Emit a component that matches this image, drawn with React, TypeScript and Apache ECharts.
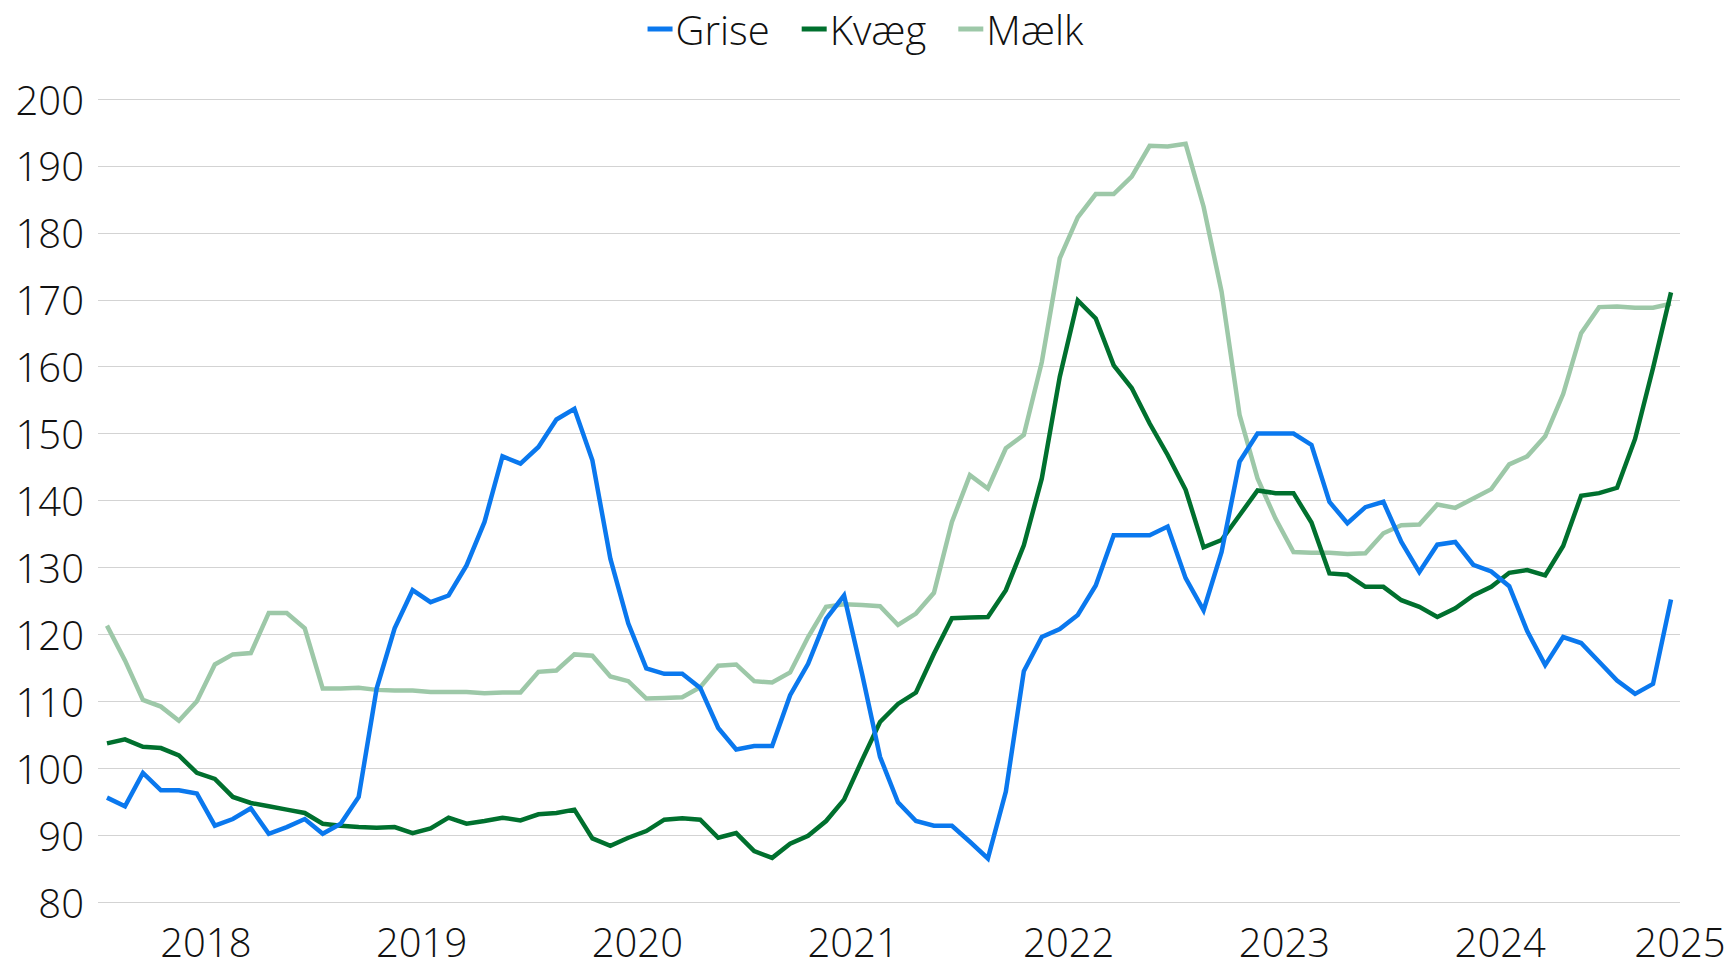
import React, { useEffect, useRef } from "react";
import * as echarts from "echarts";

// First observation: July 2017, monthly observations
const START_YEAR = 2017;
const START_MONTH = 7;

const seriesNames = ["Grise", "Kvæg", "Mælk"];

const grise = [
  95.6, 94.3, 99.3, 96.7, 96.7, 96.2, 91.4, 92.4, 94.0, 90.2,
  91.2, 92.4, 90.2, 91.7, 95.7, 111.9, 120.9, 126.6, 124.8, 125.8,
  130.3, 136.8, 146.6, 145.5, 148.0, 152.1, 153.7, 146.0, 131.3, 121.6,
  114.9, 114.1, 114.1, 112.0, 106.0, 102.8, 103.3, 103.3, 110.9, 115.6,
  122.3, 125.8, 114.1, 101.7, 94.9, 92.1, 91.4, 91.4, 89.0, 86.5,
  96.5, 114.5, 119.6, 120.8, 122.9, 127.3, 134.8, 134.8, 134.8, 136.1,
  128.4, 123.6, 132.3, 145.8, 150.0, 150.0, 150.0, 148.3, 139.8, 136.6,
  139.0, 139.8, 133.8, 129.3, 133.4, 133.8, 130.4, 129.4, 127.2, 120.5,
  115.4, 119.6, 118.7, 115.9, 113.1, 111.1, 112.6, 125.2,
];

const kvaeg = [
  103.7, 104.3, 103.2, 103.0, 101.9, 99.3, 98.4, 95.7, 94.8, 94.3,
  93.8, 93.3, 91.7, 91.4, 91.2, 91.1, 91.2, 90.3, 91.0, 92.6,
  91.7, 92.1, 92.6, 92.2, 93.1, 93.3, 93.8, 89.5, 88.4, 89.6,
  90.6, 92.3, 92.5, 92.3, 89.6, 90.3, 87.6, 86.6, 88.7, 89.9,
  92.1, 95.3, 101.2, 106.9, 109.6, 111.3, 117.1, 122.4, 122.5, 122.6,
  126.6, 133.3, 143.3, 158.5, 169.9, 167.2, 160.2, 156.8, 151.5, 146.8,
  141.6, 133.0, 134.1, 137.8, 141.5, 141.1, 141.1, 136.7, 129.1, 128.9,
  127.1, 127.1, 125.1, 124.1, 122.6, 123.9, 125.8, 127.1, 129.2, 129.6,
  128.8, 133.2, 140.7, 141.1, 141.9, 149.2, 159.8, 171.1,
];

const maelk = [
  121.3, 116.1, 110.2, 109.2, 107.1, 110.0, 115.5, 117.0, 117.2, 123.2,
  123.2, 120.9, 111.9, 111.9, 112.0, 111.7, 111.6, 111.6, 111.4, 111.4,
  111.4, 111.2, 111.3, 111.3, 114.4, 114.6, 117.0, 116.8, 113.7, 113.0,
  110.4, 110.5, 110.6, 112.1, 115.3, 115.5, 113.0, 112.8, 114.3, 119.6,
  124.1, 124.5, 124.4, 124.2, 121.4, 123.1, 126.2, 136.8, 143.8, 141.8,
  147.8, 149.8, 160.7, 176.2, 182.3, 185.8, 185.8, 188.4, 193.0, 192.9,
  193.3, 183.9, 171.2, 152.8, 143.3, 137.3, 132.3, 132.2, 132.2, 132.0,
  132.1, 135.1, 136.3, 136.4, 139.4, 138.9, 140.3, 141.7, 145.4, 146.6,
  149.6, 155.9, 165.0, 168.9, 169.0, 168.8, 168.8, 169.4,
];

const yearLabels = ["2018", "2019", "2020", "2021", "2022", "2023", "2024", "2025"];
const yTicks = [80, 90, 100, 110, 120, 130, 140, 150, 160, 170, 180, 190, 200];

const months = grise.map((_, i) => {
  const m = START_MONTH - 1 + i;
  return `${START_YEAR + Math.floor(m / 12)}-${String((m % 12) + 1).padStart(2, "0")}`;
});

const X_MIN = -0.5;
const X_MAX = months.length - 0.5;

// year labels at January boundaries (the last one sits at the axis end)
const labelValues = yearLabels.map((y) => {
  const idx = months.indexOf(`${y}-01`);
  return idx >= 0 ? idx - 0.5 : X_MAX;
});

const colors = ["#0A78EE", "#00702E", "#9DC8A8"];
const FONT = "'Open Sans', 'Noto Sans', sans-serif";

export default function App() {
  const ref = useRef<HTMLDivElement>(null);

  useEffect(() => {
    if (!ref.current) return;
    const chart = echarts.init(ref.current, null, { renderer: "svg" });
    const toPairs = (arr: number[]) => arr.map((v, i) => [i, v]);
    const data = [grise, kvaeg, maelk];
    chart.setOption({
      animation: false,
      backgroundColor: "#ffffff",
      textStyle: { fontFamily: FONT },
      legend: {
        top: 2,
        left: "center",
        icon: "rect",
        itemWidth: 25,
        itemHeight: 5,
        itemGap: 32,
        data: seriesNames,
        textStyle: {
          fontSize: 40,
          fontWeight: 300,
          color: "#111",
          fontFamily: FONT,
          lineHeight: 44,
          padding: [0, 0, 0, -2],
        },
      },
      grid: {
        left: 98,
        right: 51,
        top: 99,
        bottom: 68,
        containLabel: false,
      },
      xAxis: {
        type: "value",
        min: X_MIN,
        max: X_MAX,
        axisLine: { show: false },
        axisTick: { show: false },
        splitLine: { show: false },
        axisLabel: {
          customValues: labelValues,
          formatter: (v: number) => {
            const i = labelValues.findIndex((x) => Math.abs(x - v) < 1e-6);
            return i >= 0 ? yearLabels[i] : "";
          },
          fontSize: 40,
          fontWeight: 300,
          color: "#111",
          fontFamily: FONT,
          lineHeight: 36,
          margin: 21,
          showMinLabel: true,
          showMaxLabel: true,
        },
      },
      yAxis: {
        type: "value",
        min: yTicks[0],
        max: yTicks[yTicks.length - 1],
        interval: 10,
        axisLine: { show: false },
        axisTick: { show: false },
        splitLine: { show: true, lineStyle: { color: "#D3D3D3", width: 1.2 } },
        axisLabel: {
          fontSize: 40,
          fontWeight: 300,
          color: "#111",
          fontFamily: FONT,
          margin: 14,
        },
      },
      series: seriesNames.map((name, i) => ({
        name,
        type: "line",
        data: toPairs(data[i]),
        showSymbol: false,
        symbol: "none",
        z: 10 - i,
        color: colors[i],
        lineStyle: { width: 4.5, color: colors[i], join: "miter" },
        emphasis: { disabled: true },
      })),
    });
    return () => chart.dispose();
  }, []);

  return (
    <div
      ref={ref}
      style={{ position: "fixed", left: 0, top: 0, width: 1731, height: 970, background: "#fff" }}
    />
  );
}
